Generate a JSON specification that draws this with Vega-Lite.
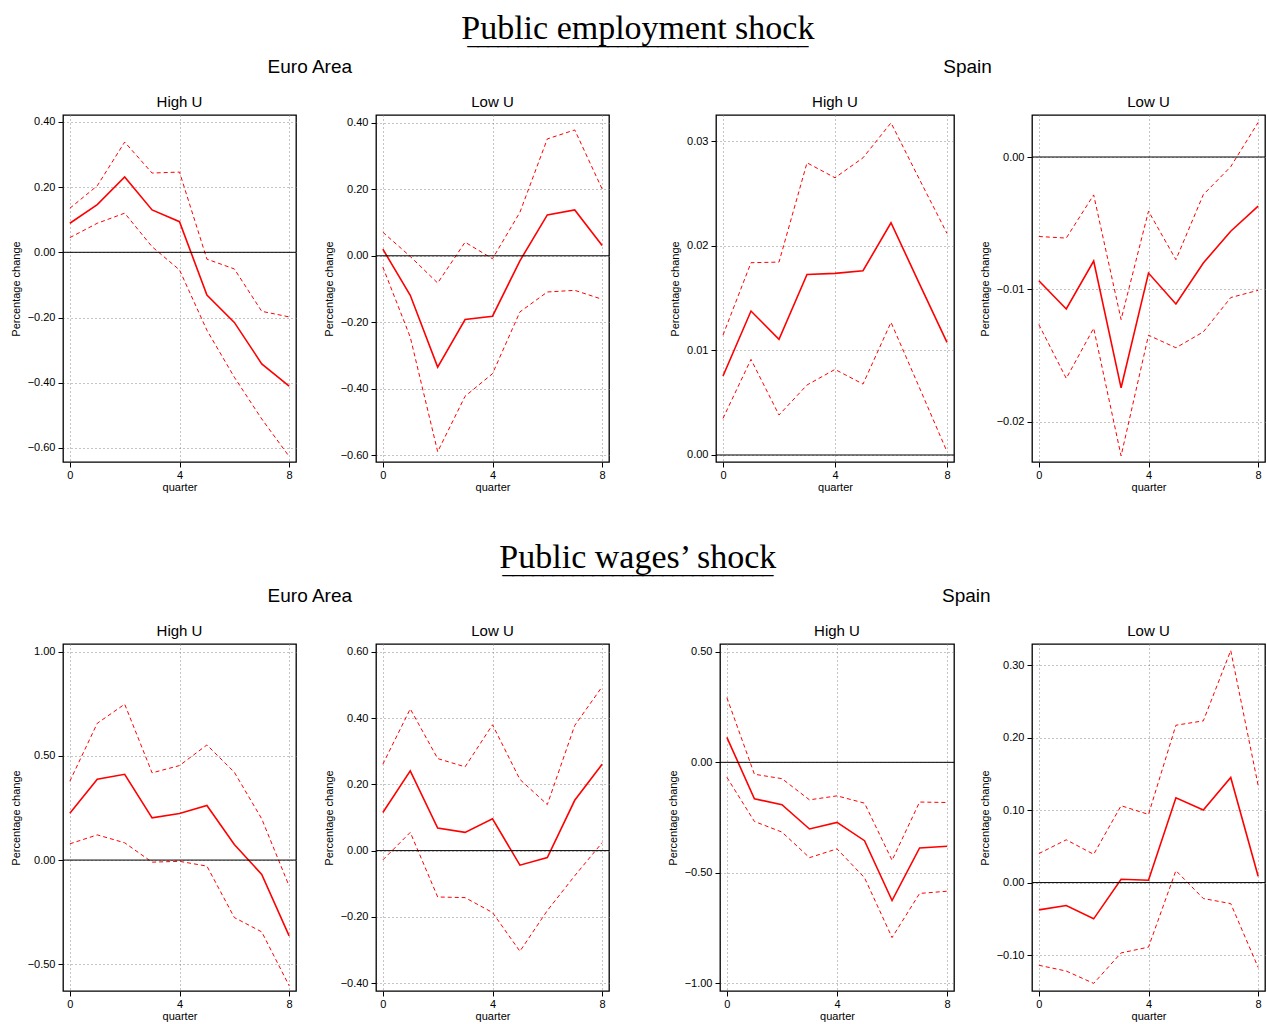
{
"$schema":"https://vega.github.io/schema/vega-lite/v6.json",
"padding":{"left":9,"top":12,"right":0,"bottom":0},
"data":{"values":[
{"p":1,"q":0,"m":0.089,"lo":0.045,"hi":0.135},
{"p":1,"q":1,"m":0.146,"lo":0.089,"hi":0.204},
{"p":1,"q":2,"m":0.231,"lo":0.120,"hi":0.338},
{"p":1,"q":3,"m":0.130,"lo":0.017,"hi":0.243},
{"p":1,"q":4,"m":0.094,"lo":-0.054,"hi":0.246},
{"p":1,"q":5,"m":-0.131,"lo":-0.239,"hi":-0.021},
{"p":1,"q":6,"m":-0.215,"lo":-0.383,"hi":-0.051},
{"p":1,"q":7,"m":-0.342,"lo":-0.511,"hi":-0.181},
{"p":1,"q":8,"m":-0.410,"lo":-0.626,"hi":-0.198},
{"p":2,"q":0,"m":0.020,"lo":-0.034,"hi":0.071},
{"p":2,"q":1,"m":-0.119,"lo":-0.245,"hi":-0.002},
{"p":2,"q":2,"m":-0.335,"lo":-0.590,"hi":-0.082},
{"p":2,"q":3,"m":-0.192,"lo":-0.423,"hi":0.041},
{"p":2,"q":4,"m":-0.182,"lo":-0.355,"hi":-0.009},
{"p":2,"q":5,"m":-0.015,"lo":-0.169,"hi":0.131},
{"p":2,"q":6,"m":0.123,"lo":-0.109,"hi":0.352},
{"p":2,"q":7,"m":0.138,"lo":-0.104,"hi":0.379},
{"p":2,"q":8,"m":0.031,"lo":-0.131,"hi":0.201},
{"p":3,"q":0,"m":0.00755,"lo":0.00350,"hi":0.01146},
{"p":3,"q":1,"m":0.01376,"lo":0.00914,"hi":0.01838},
{"p":3,"q":2,"m":0.01105,"lo":0.00382,"hi":0.01844},
{"p":3,"q":3,"m":0.01726,"lo":0.00669,"hi":0.02793},
{"p":3,"q":4,"m":0.01736,"lo":0.00818,"hi":0.02650},
{"p":3,"q":5,"m":0.01761,"lo":0.00678,"hi":0.02841},
{"p":3,"q":6,"m":0.02220,"lo":0.01268,"hi":0.03175},
{"p":3,"q":7,"m":0.01646,"lo":0.00653,"hi":0.02643},
{"p":3,"q":8,"m":0.01076,"lo":0.00032,"hi":0.02118},
{"p":4,"q":0,"m":-0.00934,"lo":-0.01265,"hi":-0.00600},
{"p":4,"q":1,"m":-0.01147,"lo":-0.01671,"hi":-0.00612},
{"p":4,"q":2,"m":-0.00785,"lo":-0.01292,"hi":-0.00286},
{"p":4,"q":3,"m":-0.01742,"lo":-0.02256,"hi":-0.01227},
{"p":4,"q":4,"m":-0.00876,"lo":-0.01345,"hi":-0.00409},
{"p":4,"q":5,"m":-0.01109,"lo":-0.01440,"hi":-0.00775},
{"p":4,"q":6,"m":-0.00800,"lo":-0.01320,"hi":-0.00284},
{"p":4,"q":7,"m":-0.00560,"lo":-0.01061,"hi":-0.00073},
{"p":4,"q":8,"m":-0.00371,"lo":-0.01006,"hi":0.00261},
{"p":5,"q":0,"m":0.225,"lo":0.078,"hi":0.379},
{"p":5,"q":1,"m":0.388,"lo":0.121,"hi":0.657},
{"p":5,"q":2,"m":0.412,"lo":0.083,"hi":0.749},
{"p":5,"q":3,"m":0.203,"lo":-0.010,"hi":0.419},
{"p":5,"q":4,"m":0.224,"lo":-0.006,"hi":0.454},
{"p":5,"q":5,"m":0.262,"lo":-0.029,"hi":0.553},
{"p":5,"q":6,"m":0.075,"lo":-0.276,"hi":0.422},
{"p":5,"q":7,"m":-0.069,"lo":-0.345,"hi":0.198},
{"p":5,"q":8,"m":-0.364,"lo":-0.604,"hi":-0.125},
{"p":6,"q":0,"m":0.115,"lo":-0.028,"hi":0.261},
{"p":6,"q":1,"m":0.241,"lo":0.055,"hi":0.428},
{"p":6,"q":2,"m":0.068,"lo":-0.140,"hi":0.278},
{"p":6,"q":3,"m":0.055,"lo":-0.142,"hi":0.253},
{"p":6,"q":4,"m":0.096,"lo":-0.187,"hi":0.380},
{"p":6,"q":5,"m":-0.044,"lo":-0.304,"hi":0.215},
{"p":6,"q":6,"m":-0.021,"lo":-0.181,"hi":0.139},
{"p":6,"q":7,"m":0.152,"lo":-0.076,"hi":0.378},
{"p":6,"q":8,"m":0.261,"lo":0.024,"hi":0.495},
{"p":7,"q":0,"m":0.113,"lo":-0.068,"hi":0.293},
{"p":7,"q":1,"m":-0.165,"lo":-0.268,"hi":-0.054},
{"p":7,"q":2,"m":-0.192,"lo":-0.316,"hi":-0.074},
{"p":7,"q":3,"m":-0.302,"lo":-0.432,"hi":-0.170},
{"p":7,"q":4,"m":-0.272,"lo":-0.392,"hi":-0.152},
{"p":7,"q":5,"m":-0.355,"lo":-0.523,"hi":-0.185},
{"p":7,"q":6,"m":-0.626,"lo":-0.794,"hi":-0.444},
{"p":7,"q":7,"m":-0.388,"lo":-0.594,"hi":-0.180},
{"p":7,"q":8,"m":-0.380,"lo":-0.584,"hi":-0.182},
{"p":8,"q":0,"m":-0.0376,"lo":-0.114,"hi":0.040},
{"p":8,"q":1,"m":-0.0317,"lo":-0.122,"hi":0.059},
{"p":8,"q":2,"m":-0.050,"lo":-0.139,"hi":0.039},
{"p":8,"q":3,"m":0.0046,"lo":-0.097,"hi":0.106},
{"p":8,"q":4,"m":0.0032,"lo":-0.089,"hi":0.094},
{"p":8,"q":5,"m":0.117,"lo":0.0165,"hi":0.217},
{"p":8,"q":6,"m":0.100,"lo":-0.022,"hi":0.223},
{"p":8,"q":7,"m":0.145,"lo":-0.029,"hi":0.320},
{"p":8,"q":8,"m":0.0087,"lo":-0.117,"hi":0.134}
]},
"vconcat":[
{"title":{"text":"Public employment shock","font":"Liberation Serif","fontSize":34,"anchor":"middle","subtitle":"‾‾‾‾‾‾‾‾‾‾‾‾‾‾‾‾‾‾‾‾‾‾‾‾‾‾‾‾‾‾‾‾‾‾","subtitleFont":"Liberation Serif","subtitleFontSize":30,"subtitleColor":"#000","subtitlePadding":0,"offset":-18},
 "spacing":57,
 "hconcat":[
 {"title":{"text":"Euro Area","fontSize":19,"anchor":"middle","offset":17},"spacing":24,"hconcat":[
  {"title":"High U","width":233,"height":347,"layer":[
   {"transform":[{"filter":"datum.p==1"}],"mark":{"type":"line","color":"#ff0000","strokeWidth":1.6},"encoding":{"x":{"field":"q","type":"quantitative","title":"quarter","scale":{"domain":[-0.25,8.25],"nice":false,"zero":false},"axis":{"values":[0,4,8]}},"y":{"field":"m","type":"quantitative","title":"Percentage change","scale":{"domain":[-0.643,0.421],"nice":false,"zero":false},"axis":{"values":[-0.6,-0.4,-0.2,0,0.2,0.4],"format":".2f"}}}},
   {"transform":[{"filter":"datum.p==1"}],"mark":{"type":"line","color":"#ff0000","strokeWidth":1,"strokeDash":[4,3]},"encoding":{"x":{"field":"q","type":"quantitative","title":"quarter"},"y":{"field":"hi","type":"quantitative","title":"Percentage change"}}},
   {"transform":[{"filter":"datum.p==1"}],"mark":{"type":"line","color":"#ff0000","strokeWidth":1,"strokeDash":[4,3]},"encoding":{"x":{"field":"q","type":"quantitative","title":"quarter"},"y":{"field":"lo","type":"quantitative","title":"Percentage change"}}},
   {"data":{"values":[{"z":0}]},"mark":{"type":"rule","color":"#000","strokeWidth":1},"encoding":{"y":{"field":"z","type":"quantitative","title":"Percentage change"}}}
  ]},
  {"title":"Low U","width":233,"height":347,"layer":[
   {"transform":[{"filter":"datum.p==2"}],"mark":{"type":"line","color":"#ff0000","strokeWidth":1.6},"encoding":{"x":{"field":"q","type":"quantitative","title":"quarter","scale":{"domain":[-0.25,8.25],"nice":false,"zero":false},"axis":{"values":[0,4,8]}},"y":{"field":"m","type":"quantitative","title":"Percentage change","scale":{"domain":[-0.621,0.424],"nice":false,"zero":false},"axis":{"values":[-0.6,-0.4,-0.2,0,0.2,0.4],"format":".2f"}}}},
   {"transform":[{"filter":"datum.p==2"}],"mark":{"type":"line","color":"#ff0000","strokeWidth":1,"strokeDash":[4,3]},"encoding":{"x":{"field":"q","type":"quantitative","title":"quarter"},"y":{"field":"hi","type":"quantitative","title":"Percentage change"}}},
   {"transform":[{"filter":"datum.p==2"}],"mark":{"type":"line","color":"#ff0000","strokeWidth":1,"strokeDash":[4,3]},"encoding":{"x":{"field":"q","type":"quantitative","title":"quarter"},"y":{"field":"lo","type":"quantitative","title":"Percentage change"}}},
   {"data":{"values":[{"z":0}]},"mark":{"type":"rule","color":"#000","strokeWidth":1},"encoding":{"y":{"field":"z","type":"quantitative","title":"Percentage change"}}}
  ]}
 ]},
 {"title":{"text":"Spain","fontSize":19,"anchor":"middle","offset":17},"spacing":22,"hconcat":[
  {"title":"High U","width":238,"height":347,"layer":[
   {"transform":[{"filter":"datum.p==3"}],"mark":{"type":"line","color":"#ff0000","strokeWidth":1.6},"encoding":{"x":{"field":"q","type":"quantitative","title":"quarter","scale":{"domain":[-0.25,8.25],"nice":false,"zero":false},"axis":{"values":[0,4,8]}},"y":{"field":"m","type":"quantitative","title":"Percentage change","scale":{"domain":[-0.00067,0.0325],"nice":false,"zero":false},"axis":{"values":[0,0.01,0.02,0.03],"format":".2f"}}}},
   {"transform":[{"filter":"datum.p==3"}],"mark":{"type":"line","color":"#ff0000","strokeWidth":1,"strokeDash":[4,3]},"encoding":{"x":{"field":"q","type":"quantitative","title":"quarter"},"y":{"field":"hi","type":"quantitative","title":"Percentage change"}}},
   {"transform":[{"filter":"datum.p==3"}],"mark":{"type":"line","color":"#ff0000","strokeWidth":1,"strokeDash":[4,3]},"encoding":{"x":{"field":"q","type":"quantitative","title":"quarter"},"y":{"field":"lo","type":"quantitative","title":"Percentage change"}}},
   {"data":{"values":[{"z":0}]},"mark":{"type":"rule","color":"#000","strokeWidth":1},"encoding":{"y":{"field":"z","type":"quantitative","title":"Percentage change"}}}
  ]},
  {"title":"Low U","width":233,"height":347,"layer":[
   {"transform":[{"filter":"datum.p==4"}],"mark":{"type":"line","color":"#ff0000","strokeWidth":1.6},"encoding":{"x":{"field":"q","type":"quantitative","title":"quarter","scale":{"domain":[-0.25,8.25],"nice":false,"zero":false},"axis":{"values":[0,4,8]}},"y":{"field":"m","type":"quantitative","title":"Percentage change","scale":{"domain":[-0.02302,0.00317],"nice":false,"zero":false},"axis":{"values":[-0.02,-0.01,0],"format":".2f"}}}},
   {"transform":[{"filter":"datum.p==4"}],"mark":{"type":"line","color":"#ff0000","strokeWidth":1,"strokeDash":[4,3]},"encoding":{"x":{"field":"q","type":"quantitative","title":"quarter"},"y":{"field":"hi","type":"quantitative","title":"Percentage change"}}},
   {"transform":[{"filter":"datum.p==4"}],"mark":{"type":"line","color":"#ff0000","strokeWidth":1,"strokeDash":[4,3]},"encoding":{"x":{"field":"q","type":"quantitative","title":"quarter"},"y":{"field":"lo","type":"quantitative","title":"Percentage change"}}},
   {"data":{"values":[{"z":0}]},"mark":{"type":"rule","color":"#000","strokeWidth":1},"encoding":{"y":{"field":"z","type":"quantitative","title":"Percentage change"}}}
  ]}
 ]}
]},
{"title":{"text":"Public wages’ shock","font":"Liberation Serif","fontSize":34,"anchor":"middle","subtitle":"‾‾‾‾‾‾‾‾‾‾‾‾‾‾‾‾‾‾‾‾‾‾‾‾‾‾‾","subtitleFont":"Liberation Serif","subtitleFontSize":30,"subtitleColor":"#000","subtitlePadding":0,"offset":-18},
 "spacing":55,
 "hconcat":[
 {"title":{"text":"Euro Area","fontSize":19,"anchor":"middle","offset":17},"spacing":24,"hconcat":[
  {"title":"High U","width":233,"height":347,"layer":[
   {"transform":[{"filter":"datum.p==5"}],"mark":{"type":"line","color":"#ff0000","strokeWidth":1.6},"encoding":{"x":{"field":"q","type":"quantitative","title":"quarter","scale":{"domain":[-0.25,8.25],"nice":false,"zero":false},"axis":{"values":[0,4,8]}},"y":{"field":"m","type":"quantitative","title":"Percentage change","scale":{"domain":[-0.629,1.038],"nice":false,"zero":false},"axis":{"values":[-0.5,0,0.5,1],"format":".2f"}}}},
   {"transform":[{"filter":"datum.p==5"}],"mark":{"type":"line","color":"#ff0000","strokeWidth":1,"strokeDash":[4,3]},"encoding":{"x":{"field":"q","type":"quantitative","title":"quarter"},"y":{"field":"hi","type":"quantitative","title":"Percentage change"}}},
   {"transform":[{"filter":"datum.p==5"}],"mark":{"type":"line","color":"#ff0000","strokeWidth":1,"strokeDash":[4,3]},"encoding":{"x":{"field":"q","type":"quantitative","title":"quarter"},"y":{"field":"lo","type":"quantitative","title":"Percentage change"}}},
   {"data":{"values":[{"z":0}]},"mark":{"type":"rule","color":"#000","strokeWidth":1},"encoding":{"y":{"field":"z","type":"quantitative","title":"Percentage change"}}}
  ]},
  {"title":"Low U","width":233,"height":347,"layer":[
   {"transform":[{"filter":"datum.p==6"}],"mark":{"type":"line","color":"#ff0000","strokeWidth":1.6},"encoding":{"x":{"field":"q","type":"quantitative","title":"quarter","scale":{"domain":[-0.25,8.25],"nice":false,"zero":false},"axis":{"values":[0,4,8]}},"y":{"field":"m","type":"quantitative","title":"Percentage change","scale":{"domain":[-0.424,0.624],"nice":false,"zero":false},"axis":{"values":[-0.4,-0.2,0,0.2,0.4,0.6],"format":".2f"}}}},
   {"transform":[{"filter":"datum.p==6"}],"mark":{"type":"line","color":"#ff0000","strokeWidth":1,"strokeDash":[4,3]},"encoding":{"x":{"field":"q","type":"quantitative","title":"quarter"},"y":{"field":"hi","type":"quantitative","title":"Percentage change"}}},
   {"transform":[{"filter":"datum.p==6"}],"mark":{"type":"line","color":"#ff0000","strokeWidth":1,"strokeDash":[4,3]},"encoding":{"x":{"field":"q","type":"quantitative","title":"quarter"},"y":{"field":"lo","type":"quantitative","title":"Percentage change"}}},
   {"data":{"values":[{"z":0}]},"mark":{"type":"rule","color":"#000","strokeWidth":1},"encoding":{"y":{"field":"z","type":"quantitative","title":"Percentage change"}}}
  ]}
 ]},
 {"title":{"text":"Spain","fontSize":19,"anchor":"middle","offset":17},"spacing":22,"hconcat":[
  {"title":"High U","width":234,"height":347,"layer":[
   {"transform":[{"filter":"datum.p==7"}],"mark":{"type":"line","color":"#ff0000","strokeWidth":1.6},"encoding":{"x":{"field":"q","type":"quantitative","title":"quarter","scale":{"domain":[-0.25,8.25],"nice":false,"zero":false},"axis":{"values":[0,4,8]}},"y":{"field":"m","type":"quantitative","title":"Percentage change","scale":{"domain":[-1.036,0.536],"nice":false,"zero":false},"axis":{"values":[-1,-0.5,0,0.5],"format":".2f"}}}},
   {"transform":[{"filter":"datum.p==7"}],"mark":{"type":"line","color":"#ff0000","strokeWidth":1,"strokeDash":[4,3]},"encoding":{"x":{"field":"q","type":"quantitative","title":"quarter"},"y":{"field":"hi","type":"quantitative","title":"Percentage change"}}},
   {"transform":[{"filter":"datum.p==7"}],"mark":{"type":"line","color":"#ff0000","strokeWidth":1,"strokeDash":[4,3]},"encoding":{"x":{"field":"q","type":"quantitative","title":"quarter"},"y":{"field":"lo","type":"quantitative","title":"Percentage change"}}},
   {"data":{"values":[{"z":0}]},"mark":{"type":"rule","color":"#000","strokeWidth":1},"encoding":{"y":{"field":"z","type":"quantitative","title":"Percentage change"}}}
  ]},
  {"title":"Low U","width":233,"height":347,"layer":[
   {"transform":[{"filter":"datum.p==8"}],"mark":{"type":"line","color":"#ff0000","strokeWidth":1.6},"encoding":{"x":{"field":"q","type":"quantitative","title":"quarter","scale":{"domain":[-0.25,8.25],"nice":false,"zero":false},"axis":{"values":[0,4,8]}},"y":{"field":"m","type":"quantitative","title":"Percentage change","scale":{"domain":[-0.1495,0.329],"nice":false,"zero":false},"axis":{"values":[-0.1,0,0.1,0.2,0.3],"format":".2f"}}}},
   {"transform":[{"filter":"datum.p==8"}],"mark":{"type":"line","color":"#ff0000","strokeWidth":1,"strokeDash":[4,3]},"encoding":{"x":{"field":"q","type":"quantitative","title":"quarter"},"y":{"field":"hi","type":"quantitative","title":"Percentage change"}}},
   {"transform":[{"filter":"datum.p==8"}],"mark":{"type":"line","color":"#ff0000","strokeWidth":1,"strokeDash":[4,3]},"encoding":{"x":{"field":"q","type":"quantitative","title":"quarter"},"y":{"field":"lo","type":"quantitative","title":"Percentage change"}}},
   {"data":{"values":[{"z":0}]},"mark":{"type":"rule","color":"#000","strokeWidth":1},"encoding":{"y":{"field":"z","type":"quantitative","title":"Percentage change"}}}
  ]}
 ]}
]}
],
"spacing":48,
"config":{
 "font":"Liberation Sans",
 "view":{"stroke":"#000","strokeWidth":1.3},
 "axis":{"domain":false,"grid":true,"gridColor":"#888","gridDash":[1,3],"gridWidth":1,"tickColor":"#000","tickSize":5,"labelFontSize":11,"labelColor":"#000","titleFontSize":11,"titleFontWeight":"normal","titleColor":"#000","labelFont":"Liberation Sans","titleFont":"Liberation Sans"},
 "axisX":{"titlePadding":1,"labelPadding":2,"labelFlush":false},
 "axisY":{"titlePadding":6,"labelPadding":3},
 "title":{"fontWeight":"normal","fontSize":15,"color":"#000","offset":5,"font":"Liberation Sans"}
}
}
